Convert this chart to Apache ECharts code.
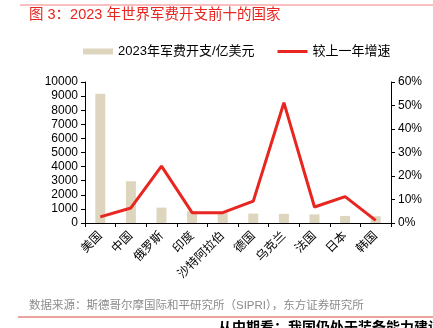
<!DOCTYPE html>
<html>
<head>
<meta charset="utf-8">
<script src="https://cdn.jsdelivr.net/npm/echarts@6/dist/echarts.min.js"></script>
<style>
  html, body { margin: 0; padding: 0; background: #fff; }
  #chart { width: 433px; height: 328px; }
</style>
</head>
<body>
<div id="chart"></div>
<script>
// Top ten military spenders, 2023
const countries = ['美国', '中国', '俄罗斯', '印度', '沙特阿拉伯', '德国', '乌克兰', '法国', '日本', '韩国'];
// Spending, 100 million USD
const spending = [9160, 2960, 1090, 836, 758, 668, 648, 613, 502, 479];
// Year-on-year growth, %
const growth = [2.6, 6.4, 24.2, 4.4, 4.4, 9.3, 51.2, 6.8, 11.2, 1.1];

const FONT = '"Liberation Sans", Arial, "Noto Sans CJK SC", sans-serif';
const RED = '#E8251F';
const BEIGE = '#DED5BF';

const chart = echarts.init(document.getElementById('chart'), null, { renderer: 'canvas' });

chart.setOption({
  animation: false,
  backgroundColor: '#fff',
  textStyle: { fontFamily: FONT, color: '#000' },
  graphic: [
    { type: 'line', shape: { x1: 20, y1: 5, x2: 433, y2: 5 }, style: { stroke: '#F08080', lineWidth: 1 } },
    { type: 'text', left: 29, top: 8, style: { text: '图 3：2023 年世界军费开支前十的国家', fill: RED, font: '14.5px ' + FONT } },
    { type: 'text', left: 29, top: 300, style: { text: '数据来源：斯德哥尔摩国际和平研究所（SIPRI），东方证券研究所', fill: '#8C8C8C', font: '11.5px ' + FONT } },
    { type: 'line', shape: { x1: 18, y1: 317, x2: 433, y2: 317 }, style: { stroke: '#D9443A', lineWidth: 1 } },
    { type: 'text', left: 218, top: 321, style: { text: '从中期看：我国仍处于装备能力建设', fill: '#000', font: 'bold 14px ' + FONT } }
  ],
  legend: {
    left: 83,
    top: 45,
    padding: 0,
    itemWidth: 30,
    itemHeight: 6,
    itemGap: 23,
    textStyle: { fontSize: 13, color: '#000', fontFamily: FONT },
    data: [
      { name: '2023年军费开支/亿美元', icon: 'path://M0,0 L30,0 L30,6 L0,6 Z' },
      { name: '较上一年增速', icon: 'path://M0,0 L30,0 L30,3 L0,3 Z' }
    ]
  },
  grid: { left: 85, right: 42, top: 82, bottom: 105 },
  xAxis: {
    type: 'category',
    data: countries,
    boundaryGap: true,
    axisLine: { lineStyle: { color: '#000', width: 1 } },
    axisTick: { show: true, length: 4, alignWithLabel: false, lineStyle: { color: '#000' } },
    axisLabel: { rotate: 45, fontSize: 12, color: '#000', margin: 11, interval: 0, fontFamily: FONT }
  },
  yAxis: [
    {
      type: 'value', min: 0, max: 10000, interval: 1000,
      axisLine: { show: true, lineStyle: { color: '#000' } },
      axisTick: { show: true, length: 4, lineStyle: { color: '#000' } },
      splitLine: { show: false },
      axisLabel: { fontSize: 12, color: '#000', margin: 7, fontFamily: FONT, formatter: (v) => String(v) }
    },
    {
      type: 'value', min: 0, max: 60, interval: 10,
      position: 'right',
      axisLine: { show: true, lineStyle: { color: '#000' } },
      axisTick: { show: true, length: 4, lineStyle: { color: '#000' } },
      splitLine: { show: false },
      axisLabel: { fontSize: 12, color: '#000', margin: 7, formatter: '{value}%', fontFamily: FONT }
    }
  ],
  series: [
    {
      name: '2023年军费开支/亿美元',
      type: 'bar',
      data: spending,
      barWidth: 10,
      itemStyle: { color: BEIGE }
    },
    {
      name: '较上一年增速',
      type: 'line',
      yAxisIndex: 1,
      data: growth,
      showSymbol: false,
      symbol: 'none',
      lineStyle: { color: RED, width: 3 },
      itemStyle: { color: RED }
    }
  ]
});
</script>
</body>
</html>
